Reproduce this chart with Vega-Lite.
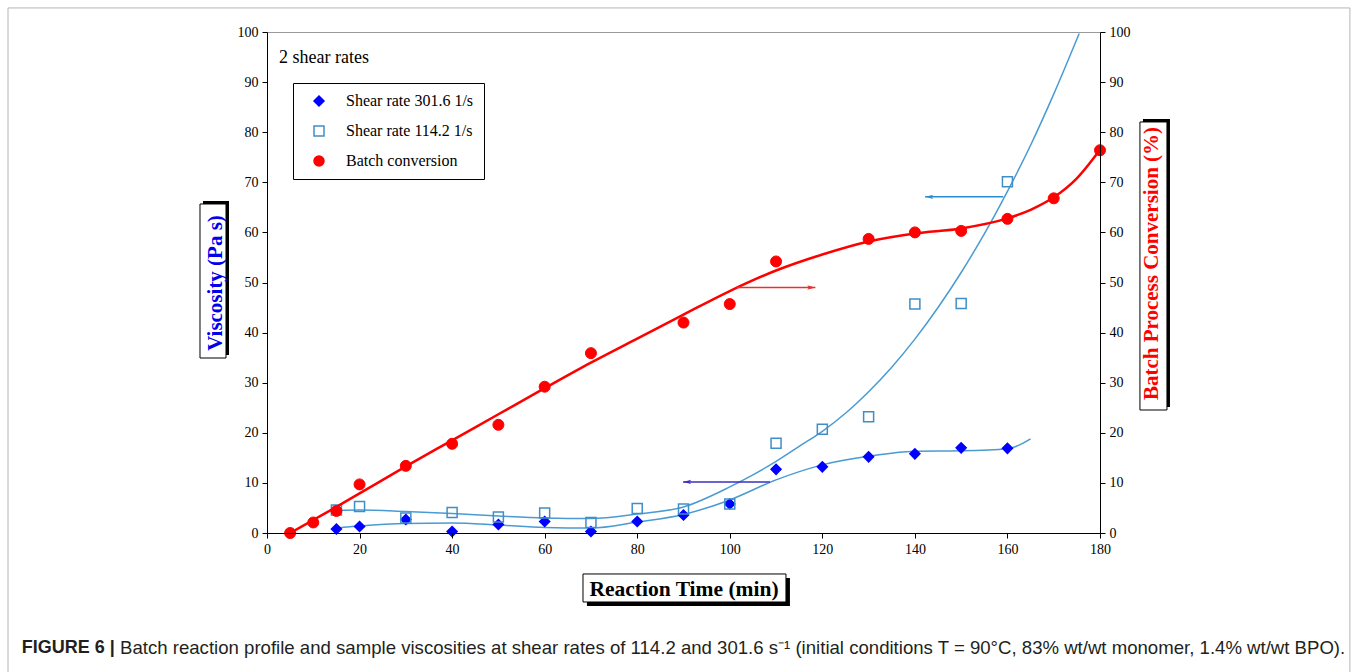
{
  "$schema": "https://vega.github.io/schema/vega-lite/v6.json",
  "width": 833,
  "height": 501,
  "autosize": {"type": "none"},
  "padding": {"left": 267, "top": 32, "right": 258, "bottom": 139},
  "background": "white",
  "config": {
    "view": {"stroke": "#9a9a9a", "strokeWidth": 1},
    "axis": {
      "labelFont": "Liberation Serif", "labelFontSize": 14, "labelColor": "#000",
      "domainColor": "#000", "tickColor": "#000", "tickSize": 5, "labelPadding": 4,
      "titleFont": "Liberation Serif", "titleFontSize": 21, "titleFontWeight": "bold", "titleColor": "#000",
      "grid": false, "zindex": 1, "labelFlush": false, "labelOverlap": false
    },
    "legend": {
      "orient": "none", "legendX": 26, "legendY": 51, "padding": 10,
      "strokeColor": "#000", "fillColor": "#ffffff",
      "labelFont": "Liberation Serif", "labelFontSize": 16, "labelColor": "#000",
      "rowPadding": 14, "symbolOffset": 8, "labelOffset": 19, "symbolStrokeWidth": 1.5, "symbolSize": 100
    }
  },
  "datasets": {
    "visc": [
      {"t": 15, "v": 0.8, "series": "Shear rate 301.6 1/s"},
      {"t": 20, "v": 1.3, "series": "Shear rate 301.6 1/s"},
      {"t": 30, "v": 2.7, "series": "Shear rate 301.6 1/s"},
      {"t": 40, "v": 0.3, "series": "Shear rate 301.6 1/s"},
      {"t": 50, "v": 1.7, "series": "Shear rate 301.6 1/s"},
      {"t": 60, "v": 2.3, "series": "Shear rate 301.6 1/s"},
      {"t": 70, "v": 0.3, "series": "Shear rate 301.6 1/s"},
      {"t": 80, "v": 2.3, "series": "Shear rate 301.6 1/s"},
      {"t": 90, "v": 3.6, "series": "Shear rate 301.6 1/s"},
      {"t": 100, "v": 5.8, "series": "Shear rate 301.6 1/s"},
      {"t": 110, "v": 12.7, "series": "Shear rate 301.6 1/s"},
      {"t": 120, "v": 13.2, "series": "Shear rate 301.6 1/s"},
      {"t": 130, "v": 15.2, "series": "Shear rate 301.6 1/s"},
      {"t": 140, "v": 15.8, "series": "Shear rate 301.6 1/s"},
      {"t": 150, "v": 17.0, "series": "Shear rate 301.6 1/s"},
      {"t": 160, "v": 16.9, "series": "Shear rate 301.6 1/s"},
      {"t": 15, "v": 4.6, "series": "Shear rate 114.2 1/s"},
      {"t": 20, "v": 5.3, "series": "Shear rate 114.2 1/s"},
      {"t": 30, "v": 3.0, "series": "Shear rate 114.2 1/s"},
      {"t": 40, "v": 4.1, "series": "Shear rate 114.2 1/s"},
      {"t": 50, "v": 3.2, "series": "Shear rate 114.2 1/s"},
      {"t": 60, "v": 4.0, "series": "Shear rate 114.2 1/s"},
      {"t": 70, "v": 2.1, "series": "Shear rate 114.2 1/s"},
      {"t": 80, "v": 4.9, "series": "Shear rate 114.2 1/s"},
      {"t": 90, "v": 4.8, "series": "Shear rate 114.2 1/s"},
      {"t": 100, "v": 5.8, "series": "Shear rate 114.2 1/s"},
      {"t": 110, "v": 17.9, "series": "Shear rate 114.2 1/s"},
      {"t": 120, "v": 20.7, "series": "Shear rate 114.2 1/s"},
      {"t": 130, "v": 23.2, "series": "Shear rate 114.2 1/s"},
      {"t": 140, "v": 45.7, "series": "Shear rate 114.2 1/s"},
      {"t": 150, "v": 45.8, "series": "Shear rate 114.2 1/s"},
      {"t": 160, "v": 70.1, "series": "Shear rate 114.2 1/s"}
    ],
    "conv": [
      {"t": 5, "v": 0, "series": "Batch conversion"},
      {"t": 10, "v": 2.1, "series": "Batch conversion"},
      {"t": 15, "v": 4.4, "series": "Batch conversion"},
      {"t": 20, "v": 9.7, "series": "Batch conversion"},
      {"t": 30, "v": 13.4, "series": "Batch conversion"},
      {"t": 40, "v": 17.8, "series": "Batch conversion"},
      {"t": 50, "v": 21.6, "series": "Batch conversion"},
      {"t": 60, "v": 29.2, "series": "Batch conversion"},
      {"t": 70, "v": 35.9, "series": "Batch conversion"},
      {"t": 90, "v": 42.0, "series": "Batch conversion"},
      {"t": 100, "v": 45.7, "series": "Batch conversion"},
      {"t": 110, "v": 54.2, "series": "Batch conversion"},
      {"t": 130, "v": 58.7, "series": "Batch conversion"},
      {"t": 140, "v": 60.0, "series": "Batch conversion"},
      {"t": 150, "v": 60.3, "series": "Batch conversion"},
      {"t": 160, "v": 62.7, "series": "Batch conversion"},
      {"t": 170, "v": 66.8, "series": "Batch conversion"},
      {"t": 180, "v": 76.4, "series": "Batch conversion"}
    ],
    "viscFits": [
      {"t": 15, "v": 4.5, "fit": "114.2"}, {"t": 20, "v": 4.6, "fit": "114.2"}, {"t": 30, "v": 4.3, "fit": "114.2"},
      {"t": 40, "v": 3.9, "fit": "114.2"}, {"t": 50, "v": 3.4, "fit": "114.2"}, {"t": 60, "v": 3.0, "fit": "114.2"},
      {"t": 70, "v": 2.9, "fit": "114.2"}, {"t": 80, "v": 3.8, "fit": "114.2"}, {"t": 90, "v": 5.2, "fit": "114.2"},
      {"t": 100, "v": 9.2, "fit": "114.2"}, {"t": 105, "v": 11.6, "fit": "114.2"}, {"t": 110, "v": 14.3, "fit": "114.2"},
      {"t": 115, "v": 17.3, "fit": "114.2"}, {"t": 120, "v": 20.3, "fit": "114.2"}, {"t": 125, "v": 23.9, "fit": "114.2"},
      {"t": 130, "v": 28.2, "fit": "114.2"}, {"t": 135, "v": 33.1, "fit": "114.2"}, {"t": 140, "v": 38.7, "fit": "114.2"},
      {"t": 145, "v": 45.0, "fit": "114.2"}, {"t": 150, "v": 52.0, "fit": "114.2"}, {"t": 155, "v": 59.7, "fit": "114.2"},
      {"t": 160, "v": 68.2, "fit": "114.2"}, {"t": 165, "v": 77.4, "fit": "114.2"}, {"t": 170, "v": 87.6, "fit": "114.2"},
      {"t": 175.5, "v": 99.7, "fit": "114.2"},
      {"t": 15, "v": 1.0, "fit": "301.6"}, {"t": 20, "v": 1.4, "fit": "301.6"}, {"t": 30, "v": 1.9, "fit": "301.6"},
      {"t": 40, "v": 2.0, "fit": "301.6"}, {"t": 50, "v": 1.6, "fit": "301.6"}, {"t": 60, "v": 1.1, "fit": "301.6"},
      {"t": 70, "v": 1.0, "fit": "301.6"}, {"t": 80, "v": 2.2, "fit": "301.6"}, {"t": 90, "v": 3.7, "fit": "301.6"},
      {"t": 100, "v": 6.6, "fit": "301.6"}, {"t": 110, "v": 10.6, "fit": "301.6"}, {"t": 120, "v": 13.6, "fit": "301.6"},
      {"t": 130, "v": 15.3, "fit": "301.6"}, {"t": 140, "v": 16.3, "fit": "301.6"}, {"t": 150, "v": 16.4, "fit": "301.6"},
      {"t": 160, "v": 16.8, "fit": "301.6"}, {"t": 165, "v": 18.8, "fit": "301.6"}
    ],
    "convFit": [
      {"t": 5, "v": 0}, {"t": 10, "v": 2.6}, {"t": 15, "v": 5.2}, {"t": 20, "v": 7.9}, {"t": 30, "v": 13.3},
      {"t": 40, "v": 18.5}, {"t": 50, "v": 23.7}, {"t": 60, "v": 28.9}, {"t": 70, "v": 34.0}, {"t": 80, "v": 38.8},
      {"t": 90, "v": 43.6}, {"t": 100, "v": 48.3}, {"t": 110, "v": 52.4}, {"t": 120, "v": 55.6}, {"t": 130, "v": 58.2},
      {"t": 140, "v": 59.8}, {"t": 150, "v": 60.8}, {"t": 160, "v": 62.8}, {"t": 165, "v": 64.5}, {"t": 170, "v": 67.0},
      {"t": 175, "v": 70.8}, {"t": 180, "v": 76.5}
    ]
  },
  "layer": [
    {
      "layer": [
        {
          "data": {"name": "viscFits"},
          "mark": {"type": "line", "color": "#4a9bd2", "strokeWidth": 1.5, "interpolate": "monotone"},
          "encoding": {
            "x": {"field": "t", "type": "quantitative", "scale": {"domain": [0, 180], "nice": false},
              "axis": {"title": "Reaction Time (min)", "titleFontSize": 21.5, "values": [0, 20, 40, 60, 80, 100, 120, 140, 160, 180], "titlePadding": 22, "zindex": 1}},
            "y": {"field": "v", "type": "quantitative", "scale": {"domain": [0, 100], "nice": false},
              "axis": {"title": "Viscosity (Pa s)", "titleColor": "#0000ee", "values": [0, 10, 20, 30, 40, 50, 60, 70, 80, 90, 100], "titlePadding": 12, "zindex": 1}},
            "detail": {"field": "fit"}
          }
        },
        {
          "data": {"values": [{"left": -55.96, "right": 234.0, "top": 104.8, "bottom": -30}]},
          "mark": {"type": "rect", "fill": null, "fillOpacity": 0, "stroke": "#b5b5b5", "strokeWidth": 1},
          "encoding": {
            "x": {"field": "left", "type": "quantitative"},
            "x2": {"field": "right"},
            "y": {"field": "top", "type": "quantitative"},
            "y2": {"field": "bottom"}
          }
        },
        {
          "data": {"values": [
            {"left": -13.83, "right": -8.21, "top": 66.27, "bottom": 35.53},
            {"left": 189.28, "right": 195.12, "top": 82.63, "bottom": 25.15},
            {"left": 69.14, "right": 113.0, "top": -8.98, "bottom": -14.57}
          ]},
          "mark": {"type": "rect", "fill": "#000"},
          "encoding": {
            "x": {"field": "left", "type": "quantitative"},
            "x2": {"field": "right"},
            "y": {"field": "top", "type": "quantitative"},
            "y2": {"field": "bottom"}
          }
        },
        {
          "data": {"values": [
            {"left": -14.48, "right": -8.86, "top": 65.67, "bottom": 34.93},
            {"left": 188.63, "right": 194.47, "top": 82.04, "bottom": 24.55},
            {"left": 68.28, "right": 112.14, "top": -8.18, "bottom": -13.77}
          ]},
          "mark": {"type": "rect", "fill": "#fff", "stroke": "#000", "strokeWidth": 1},
          "encoding": {
            "x": {"field": "left", "type": "quantitative"},
            "x2": {"field": "right"},
            "y": {"field": "top", "type": "quantitative"},
            "y2": {"field": "bottom"}
          }
        },
        {
          "data": {"name": "visc"},
          "mark": {"type": "point", "opacity": 1, "strokeWidth": 1.5, "size": 100},
          "encoding": {
            "x": {"field": "t", "type": "quantitative"},
            "y": {"field": "v", "type": "quantitative"},
            "fill": {"field": "series", "type": "nominal", "title": null,
              "scale": {"domain": ["Shear rate 301.6 1/s", "Shear rate 114.2 1/s", "Batch conversion"], "range": ["#0000ff", "transparent", "#ff0000"]}},
            "stroke": {"field": "series", "type": "nominal", "title": null,
              "scale": {"domain": ["Shear rate 301.6 1/s", "Shear rate 114.2 1/s", "Batch conversion"], "range": ["#0000ff", "#3f8fc6", "#ff0000"]}},
            "shape": {"field": "series", "type": "nominal", "title": null,
              "scale": {"domain": ["Shear rate 301.6 1/s", "Shear rate 114.2 1/s", "Batch conversion"], "range": ["diamond", "square", "circle"]}}
          }
        },
        {
          "data": {"values": [{"from": 108.7, "to": 89.9, "level": 10.2}]},
          "mark": {"type": "rule", "color": "#3a2fc0", "strokeWidth": 1.5},
          "encoding": {
            "x": {"field": "from", "type": "quantitative"},
            "x2": {"field": "to"},
            "y": {"field": "level", "type": "quantitative"}
          }
        },
        {
          "data": {"values": [{"head": 90.8, "level": 10.2}]},
          "mark": {"type": "point", "shape": "M -1 0 L 1 -0.55 L 0.55 0 L 1 0.55 Z", "filled": true, "opacity": 1, "color": "#3a2fc0", "size": 64},
          "encoding": {
            "x": {"field": "head", "type": "quantitative"},
            "y": {"field": "level", "type": "quantitative"}
          }
        },
        {
          "data": {"values": [{"from": 159.1, "to": 142.2, "level": 67.1}]},
          "mark": {"type": "rule", "color": "#2b8ccf", "strokeWidth": 1.5},
          "encoding": {
            "x": {"field": "from", "type": "quantitative"},
            "x2": {"field": "to"},
            "y": {"field": "level", "type": "quantitative"}
          }
        },
        {
          "data": {"values": [{"head": 143.1, "level": 67.1}]},
          "mark": {"type": "point", "shape": "M -1 0 L 1 -0.55 L 0.55 0 L 1 0.55 Z", "filled": true, "opacity": 1, "color": "#2b8ccf", "size": 64},
          "encoding": {
            "x": {"field": "head", "type": "quantitative"},
            "y": {"field": "level", "type": "quantitative"}
          }
        },
        {
          "data": {"values": [{"t": 2.6, "v": 94.8, "label": "2 shear rates"}]},
          "mark": {"type": "text", "font": "Liberation Serif", "fontSize": 18, "align": "left", "baseline": "middle", "color": "#000"},
          "encoding": {
            "x": {"field": "t", "type": "quantitative"},
            "y": {"field": "v", "type": "quantitative"},
            "text": {"field": "label"}
          }
        },
        {
          "data": {"values": [{"t": -53.0, "v": -22.9, "label": "FIGURE 6 |"}]},
          "mark": {"type": "text", "font": "Liberation Sans", "fontSize": 18, "fontWeight": "bold", "align": "left", "baseline": "middle", "color": "#231f20"},
          "encoding": {
            "x": {"field": "t", "type": "quantitative"},
            "y": {"field": "v", "type": "quantitative"},
            "text": {"field": "label"}
          }
        },
        {
          "data": {"values": [{"t": -31.76, "v": -22.9, "label": "Batch reaction profile and sample viscosities at shear rates of 114.2 and 301.6 s⁻¹ (initial conditions T = 90°C, 83% wt/wt monomer, 1.4% wt/wt BPO)."}]},
          "mark": {"type": "text", "font": "Liberation Sans", "fontSize": 18.6, "align": "left", "baseline": "middle", "color": "#231f20"},
          "encoding": {
            "x": {"field": "t", "type": "quantitative"},
            "y": {"field": "v", "type": "quantitative"},
            "text": {"field": "label"}
          }
        }
      ]
    },
    {
      "layer": [
        {
          "data": {"name": "convFit"},
          "mark": {"type": "line", "color": "#ff0000", "strokeWidth": 2.5, "interpolate": "monotone"},
          "encoding": {
            "x": {"field": "t", "type": "quantitative"},
            "y": {"field": "v", "type": "quantitative", "scale": {"domain": [0, 100], "nice": false},
              "axis": {"orient": "right", "title": "Batch Process Conversion (%)", "titleColor": "#ff0000", "values": [0, 10, 20, 30, 40, 50, 60, 70, 80, 90, 100], "titlePadding": 10, "titleAngle": 270, "titleBaseline": "top", "titleY": 231, "zindex": 1}}
          }
        },
        {
          "data": {"name": "conv"},
          "mark": {"type": "point", "opacity": 1, "strokeWidth": 1, "size": 121},
          "encoding": {
            "x": {"field": "t", "type": "quantitative"},
            "y": {"field": "v", "type": "quantitative"},
            "fill": {"field": "series", "type": "nominal", "title": null,
              "scale": {"domain": ["Shear rate 301.6 1/s", "Shear rate 114.2 1/s", "Batch conversion"], "range": ["#0000ff", "transparent", "#ff0000"]}},
            "stroke": {"field": "series", "type": "nominal", "title": null,
              "scale": {"domain": ["Shear rate 301.6 1/s", "Shear rate 114.2 1/s", "Batch conversion"], "range": ["#0000ff", "#3f8fc6", "#ff0000"]}},
            "shape": {"field": "series", "type": "nominal", "title": null,
              "scale": {"domain": ["Shear rate 301.6 1/s", "Shear rate 114.2 1/s", "Batch conversion"], "range": ["diamond", "square", "circle"]}}
          }
        },
        {
          "data": {"values": [{"from": 101.5, "to": 118.5, "level": 49.0}]},
          "mark": {"type": "rule", "color": "#e8302c", "strokeWidth": 1.5},
          "encoding": {
            "x": {"field": "from", "type": "quantitative"},
            "x2": {"field": "to"},
            "y": {"field": "level", "type": "quantitative"}
          }
        },
        {
          "data": {"values": [{"head": 117.6, "level": 49.0}]},
          "mark": {"type": "point", "shape": "M 1 0 L -1 -0.55 L -0.55 0 L -1 0.55 Z", "filled": true, "opacity": 1, "color": "#e8302c", "size": 64},
          "encoding": {
            "x": {"field": "head", "type": "quantitative"},
            "y": {"field": "level", "type": "quantitative"}
          }
        }
      ]
    }
  ],
  "resolve": {"scale": {"y": "independent"}}
}
